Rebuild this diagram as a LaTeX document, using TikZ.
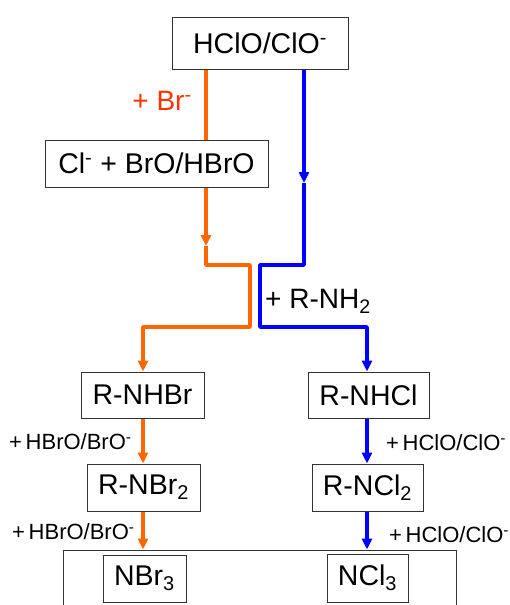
\documentclass[tikz,border=0pt]{standalone}
\usepackage{fontspec}
\setmainfont{Liberation Sans}
\usetikzlibrary{arrows.meta}
\definecolor{org}{RGB}{255,102,0}
\definecolor{blu}{RGB}{0,0,255}
\definecolor{lbl}{RGB}{255,51,0}
\definecolor{edge}{RGB}{50,50,50}
\begin{document}
\begin{tikzpicture}[x=1pt,y=-1pt,
  box/.style={draw=edge, line width=1pt, fill=white, inner sep=0pt, font=\fontsize{28.5}{32}\selectfont},
  biglbl/.style={inner sep=0pt, font=\fontsize{28}{32}\selectfont},
  smalllbl/.style={inner sep=0pt, anchor=west, font=\fontsize{22}{25}\selectfont},
  oline/.style={draw=org, line width=3.4pt},
  bline/.style={draw=blu, line width=3.4pt},
  tip/.style={-{Triangle[length=11pt,width=10pt]}},
]
\useasboundingbox (0,0) rectangle (510,605);
\fill[white] (0,0) rectangle (510,605);

% boxes
\node[box, minimum width=176pt, minimum height=52pt] (top) at (260,43) {HClO/ClO\textsuperscript{-}};
\node[box, minimum width=223pt, minimum height=47pt] (cl) at (156.5,163.5) {Cl\textsuperscript{-} + BrO/HBrO};
\node[box, minimum width=123pt, minimum height=46pt] (nhbr) at (142.5,395) {R-NHBr};
\node[box, minimum width=121pt, minimum height=46pt] (nhcl) at (368.5,395) {R-NHCl};
\node[box, minimum width=113pt, minimum height=47pt] (nbr2) at (143.5,487.5) {R-NBr\textsubscript{2}};
\node[box, minimum width=111pt, minimum height=47pt] (ncl2) at (367.5,487.5) {R-NCl\textsubscript{2}};

\begin{scope}
\clip (0,0) rectangle (510,605);
\node[box, fill=none, minimum width=393pt, minimum height=120pt] (big) at (259.5,610) {};
\node[box, minimum width=83pt, minimum height=47pt] (nbr3) at (144.5,578.5) {NBr\textsubscript{3}};
\node[box, minimum width=81pt, minimum height=48pt] (ncl3) at (367.5,578) {NCl\textsubscript{3}};
\end{scope}

% helper coordinates
\coordinate (xo1) at (206,0);
\coordinate (xb1) at (304,0);
\coordinate (xo) at (143,0);
\coordinate (xb) at (367,0);
\coordinate (oa) at (206,246);
\coordinate (ob) at (206,265);
\coordinate (oc) at (250,265);
\coordinate (od) at (250,327);
\coordinate (oe) at (143,327);
\coordinate (ba) at (304,183);
\coordinate (bb) at (304,265);
\coordinate (bc) at (260,265);
\coordinate (bd) at (260,327);
\coordinate (be) at (367,327);

% orange path
\draw[oline] (top.south -| xo1) -- (cl.north -| xo1);
\draw[oline, tip] (cl.south -| xo1) -- (oa);
\draw[oline, line join=round] (oa) -- (ob) -- (oc) -- (od) -- (oe) -- ([yshift=8pt]oe |- nhbr.north);
\draw[oline, tip] ([yshift=12pt]oe |- nhbr.north) -- (nhbr.north -| xo);
\draw[oline, tip] (nhbr.south -| xo) -- (nbr2.north -| xo);
\draw[oline, tip] (nbr2.south -| xo) -- (big.north -| xo);

% blue path
\draw[bline, tip] (top.south -| xb1) -- (ba);
\draw[bline, line join=round] (ba) -- (bb) -- (bc) -- (bd) -- (be) -- ([yshift=8pt]be |- nhcl.north);
\draw[bline, tip] ([yshift=12pt]be |- nhcl.north) -- (nhcl.north -| xb);
\draw[bline, tip] (nhcl.south -| xb) -- (ncl2.north -| xb);
\draw[bline, tip] (ncl2.south -| xb) -- (big.north -| xb);

% labels
\node[biglbl, text=lbl] (br) at (162,101) {+ Br\textsuperscript{-}};
\node[biglbl, anchor=base west] (rnh2) at (265,308) {+ R-NH\textsubscript{2}};
\node[smalllbl] (l1) at (9,442) {+\,HBrO/BrO\textsuperscript{-}};
\node[smalllbl] (l2) at (12,532) {+\,HBrO/BrO\textsuperscript{-}};
\node[smalllbl] (r1) at (386,443) {+\,HClO/ClO\textsuperscript{-}};
\node[smalllbl] (r2) at (389,535) {+\,HClO/ClO\textsuperscript{-}};
\end{tikzpicture}
\end{document}
